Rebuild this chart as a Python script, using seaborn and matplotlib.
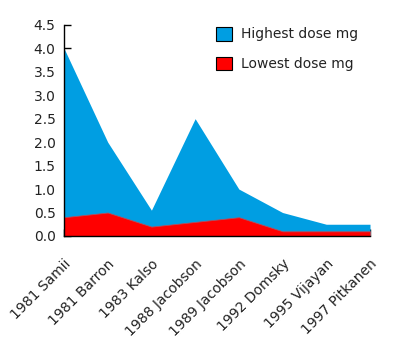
import matplotlib
matplotlib.use("Agg")
import matplotlib.pyplot as plt
import seaborn as sns
import pandas as pd
from matplotlib.patches import Patch

studies = ["1981 Samii", "1981 Barron", "1983 Kalso", "1988 Jacobson",
           "1989 Jacobson", "1992 Domsky", "1995 Vijayan", "1997 Pitkanen"]
highest_dose = [4.0, 2.0, 0.55, 2.5, 1.0, 0.5, 0.25, 0.25]
lowest_dose = [0.4, 0.5, 0.2, 0.3, 0.4, 0.1, 0.1, 0.1]

df = pd.DataFrame({"study": studies, "pos": range(len(studies)),
                   "Highest dose mg": highest_dose,
                   "Lowest dose mg": lowest_dose})

sns.set_style("ticks")
plt.rcParams["font.family"] = ["DejaVu Sans"]

blue = "#009EE2"
red = "#FF0000"

fig = plt.figure(figsize=(4.0, 3.45), dpi=100)
ax = fig.add_axes([0.16, 0.316, 0.765, 0.612])

# Highest dose area in the back, lowest dose area overlaid in front
ax.fill_between(df["pos"], 0, df["Highest dose mg"], color=blue, linewidth=0)
ax.fill_between(df["pos"], 0, df["Lowest dose mg"], color=red,
                edgecolor="#b05060", linewidth=0.6)

ax.set_xlim(0, len(studies) - 1)
ax.set_ylim(0, 4.5)
ax.set_yticks([0, 0.5, 1.0, 1.5, 2.0, 2.5, 3.0, 3.5, 4.0, 4.5])
ax.set_yticklabels([f"{v:.1f}" for v in ax.get_yticks()], fontsize=10,
                   color="#222222")
ax.set_xticks(df["pos"])
ax.set_xticklabels(studies, rotation=45, ha="right", rotation_mode="anchor",
                   fontsize=10, color="#222222")
ax.tick_params(axis="both", direction="in", length=5, width=1, color="black")
ax.tick_params(axis="x", pad=15)
ax.tick_params(axis="y", pad=6)
for side in ("top", "right"):
    ax.spines[side].set_visible(False)
for side in ("left", "bottom"):
    ax.spines[side].set_color("black")
    ax.spines[side].set_linewidth(1)
ax.set_xlabel("")
ax.set_ylabel("")

handles = [Patch(facecolor=blue, edgecolor="black", linewidth=0.8),
           Patch(facecolor=red, edgecolor="black", linewidth=0.8)]
ax.legend(handles, ["Highest dose mg", "Lowest dose mg"],
          loc="upper left", bbox_to_anchor=(0.457, 1.05), frameon=False,
          fontsize=10, handlelength=1.15, handleheight=1.15,
          handletextpad=0.65, labelspacing=1.1, labelcolor="#222222")

fig.savefig("out.png", dpi=100)
